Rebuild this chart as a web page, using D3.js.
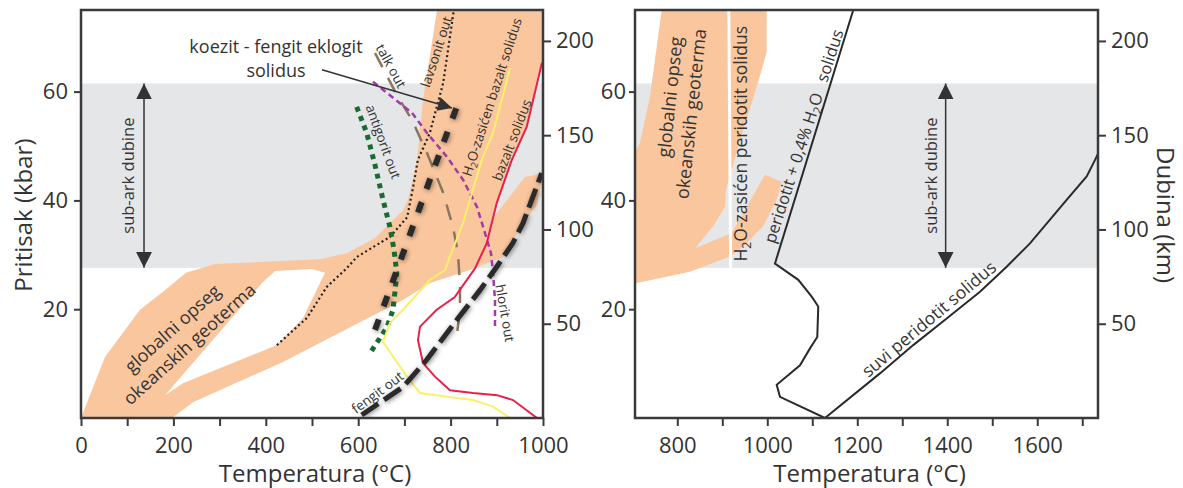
<!DOCTYPE html>
<html>
<head>
<meta charset="utf-8">
<script src="https://cdn.jsdelivr.net/npm/d3@7"></script>
<style>
  body { margin: 0; background: #fff; }
  svg { font-family: "Open Sans", sans-serif; }
</style>
</head>
<body>
<svg id="chart" width="1183" height="488"></svg>
<script>
// -------- data: [temperature °C, pressure kbar] --------
// left panel (basalt / slab)
const geoBandLeft = [[0,0],[51.9,11.2],[127.7,19.9],[181.8,23.5],[227.3,26.7],[290,28.3],[517.3,29.2],[575.8,30.3],[636.4,33.1],[697,38.2],[707.8,40.1],[727.3,47.4],[740.3,58.5],[770.6,75],[1000,75],[1000,65.8],[997.8,65.3],[965.4,53.5],[932.9,47.4],[900.4,39.5],[891.8,36.9],[848.5,32.4],[904.8,38.2],[961,44.3],[1000,45],[1000,44.7],[987,39.2],[956.7,35.8],[913.4,29.6],[835.5,27.0],[755.4,24.8],[697,21.7],[437.2,10.3],[242.4,2.9],[197,0]];
const geoGapLeft = [[181.8,4.2],[220.8,6.4],[424.2,13.4],[480.5,18.4],[528.1,26.7],[500,27.4],[419.9,27.0],[391.8,24.8]];
const lavsonitOut = [[424,13.4],[489,18.4],[532,24.1],[576,27.6],[597,29.6],[669,33.3],[706,36.9],[719,42.5],[729,47.4],[755,52.4],[784,61.6],[807,75]];
const antigoritOut = [[596.7,57.2],[618.4,52.4],[636.4,46.5],[653.7,40.1],[668.8,35.1],[677.5,30.9],[683.5,26.7],[680,23.5],[675.3,19.9],[662.3,16.7],[625.5,11.9]];
const talkOut = [[636.4,67.1],[686.1,59.0],[716.5,54.8],[748.9,48.7],[783.5,41.5],[805.2,35.1],[816,30.3],[820.3,24.4],[820.3,19.9],[811.7,14.0]];
const hloritOut = [[632,61.8],[716.5,56.1],[748.9,52.4],[792.2,48.0],[826.8,43.8],[857.1,38.8],[874.5,34.0],[887.4,30.3],[891.8,26.7],[896.1,21.7],[896.1,16.2]];
const bazaltWetSolidus = [[928.6,64.3],[891.8,52.4],[867.3,47.4],[826.8,35.8],[798.7,29.7],[787.9,27.2],[755.4,25.4],[697,19.9],[668.8,17.5],[653.7,14.0],[675.3,11.3],[705.6,7.6],[733.8,4.6],[792.2,3.9],[848.5,3.3],[891.8,2.1],[928.6,0]];
const bazaltSolidus = [[997.8,65.3],[964.7,53.5],[932.3,47.4],[899.8,39.5],[878.1,32.1],[852.8,27.5],[808.6,22.2],[769.9,19.9],[733.8,16.8],[729.4,14.3],[740.3,10.1],[766.2,7.6],[798.7,5.1],[848.5,4.6],[900.4,4.2],[935.1,3.3],[987,0]];
const koezitSolidus = [[636.4,16.2],[701.3,31.25],[759,44.7],[820.3,58.8]];
const fengitOut = [[607.6,0.55],[697.6,5.75],[748.3,10.7],[813.2,18.0],[863.6,23.5],[899.8,27.8],[935,32.2],[956.7,35.8],[997.2,45.0]];

// right panel (peridotite)
const geoBandRight = [[765.3,75],[998.7,75],[998.7,67.3],[987.6,64.0],[965.3,57.8],[939.3,51.1],[920.9,45.6],[916,44.3],[908.2,41.9],[906,38.8],[879.3,35.2],[839.3,31.2],[909.8,33.6],[920.9,34.0],[954.2,38.8],[994.9,44.7],[1032,43.4],[1020.9,40.1],[990.4,35.2],[946,31.5],[917.1,29.7],[828.2,26.9],[709.8,24.8],[700,24.6],[700,48.0],[717.1,50.6],[739.3,59.1]];
const peridotitWetSolidus = [[914.5,75],[918.5,27.6]];
const peridotitH2OSolidus = [[1191.1,75],[1017.1,28.4],[1068.9,25.4],[1098.7,22.3],[1113.3,20.5],[1111.1,14.9],[1094.9,12.8],[1072.7,9.7],[1020.9,6.1],[1028.2,3.9],[1128.2,0]];
const peridotitDrySolidus = [[1128.2,0],[1250.4,8.2],[1324.4,13.4],[1398.7,18.3],[1472.7,23.2],[1532,27.8],[1583.8,32.1],[1665.3,40.1],[1709.8,44.4],[1728.2,47.4],[1735.6,48.7]];

// sub-arc depth range (kbar)
const subArc = [27.6, 61.5];

// ticks
const pressureTicks = [20, 40, 60];
const depthTicks = [50, 100, 150, 200];
const tempTicksL = [0, 100, 200, 300, 400, 500, 600, 700, 800, 900, 1000];
const tempLabelsL = [0, 200, 400, 600, 800, 1000];
const tempTicksR = [800, 900, 1000, 1100, 1200, 1300, 1400, 1500, 1600, 1700];
const tempLabelsR = [800, 1000, 1200, 1400, 1600];

// -------- setup --------
const svg = d3.select("#chart");
const ink = "#333",
  axisColor = "#3a3a3a",
  orange = "#fac69e",
  grey = "#e5e6e8";

const xL = d3.scaleLinear().domain([0, 1000]).range([81, 543]);
const xR = d3.scaleLinear().domain([706, 1735]).range([635, 1098]);
const yP = d3.scaleLinear().domain([0, 75]).range([418, 10]);
const yKm = d3.scaleLinear().domain([0, 216.4]).range([418, 10]);

const defs = svg.append("defs");

// soft shadow for the thick dashed lines
const shadow = defs.append("filter").attr("id", "shadow")
  .attr("x", "-30%").attr("y", "-30%").attr("width", "160%").attr("height", "160%");
shadow.append("feGaussianBlur").attr("in", "SourceAlpha").attr("stdDeviation", 2.4).attr("result", "blur");
shadow.append("feOffset").attr("in", "blur").attr("dx", 1).attr("dy", 1).attr("result", "off");
shadow.append("feComponentTransfer").attr("in", "off").attr("result", "soft")
  .append("feFuncA").attr("type", "linear").attr("slope", 0.5);
const merge = shadow.append("feMerge");
merge.append("feMergeNode").attr("in", "soft");
merge.append("feMergeNode").attr("in", "SourceGraphic");

// arrowheads
defs.append("marker").attr("id", "tri")
  .attr("viewBox", "0 0 10 10").attr("refX", 10).attr("refY", 5)
  .attr("markerUnits", "userSpaceOnUse").attr("markerWidth", 16).attr("markerHeight", 17)
  .attr("orient", "auto-start-reverse")
  .append("path").attr("d", "M0,0L10,5L0,10Z").attr("fill", ink);
defs.append("marker").attr("id", "triSmall")
  .attr("viewBox", "0 0 10 10").attr("refX", 10).attr("refY", 5)
  .attr("markerUnits", "userSpaceOnUse").attr("markerWidth", 17).attr("markerHeight", 14)
  .attr("orient", "auto")
  .append("path").attr("d", "M0,0L10,5L0,10Z").attr("fill", ink);

// clip each panel to its frame
[["clipL", xL], ["clipR", xR]].forEach(([id, x]) => {
  defs.append("clipPath").attr("id", id).append("rect")
    .attr("x", x.range()[0]).attr("y", yP(75))
    .attr("width", x.range()[1] - x.range()[0]).attr("height", yP(0) - yP(75));
});

// rotated label, parts = [[text, isSubscript], ...]
function label(g, x, y, angle, parts, size) {
  const t = g.append("text")
    .attr("transform", `translate(${x},${y}) rotate(${angle})`)
    .attr("text-anchor", "middle")
    .attr("dy", "0.35em")
    .attr("font-size", size)
    .attr("fill", ink);
  parts.forEach(([s, sub]) => {
    const span = t.append("tspan").text(s);
    if (sub) span.attr("font-size", size * 0.7).attr("dy", size * 0.22);
    else if (t.selectAll("tspan").size() > 1) span.attr("dy", -size * 0.22);
  });
  return t;
}

function lineOf(x) {
  return d3.line().x(d => x(d[0])).y(d => yP(d[1]));
}

// ---------------- left panel ----------------
const lineL = lineOf(xL);
const left = svg.append("g").attr("clip-path", "url(#clipL)");

left.append("rect")
  .attr("x", xL(0)).attr("width", xL(1000) - xL(0) + 2)
  .attr("y", yP(subArc[1])).attr("height", yP(subArc[0]) - yP(subArc[1]))
  .attr("fill", grey);

left.append("path").datum(geoBandLeft).attr("d", d => lineL(d) + "Z").attr("fill", orange);
left.append("path").datum(geoGapLeft).attr("d", d => lineL(d) + "Z").attr("fill", "#fff");

left.append("path").datum(lavsonitOut).attr("d", lineL)
  .attr("fill", "none").attr("stroke", "#222").attr("stroke-width", 2.2).attr("stroke-dasharray", "2,2.8");
left.append("path").datum(antigoritOut).attr("d", lineL)
  .attr("fill", "none").attr("stroke", "#1b6a33").attr("stroke-width", 5).attr("stroke-dasharray", "5,5");
left.append("path").datum(talkOut).attr("d", lineL)
  .attr("fill", "none").attr("stroke", "#8a7660").attr("stroke-width", 2.5).attr("stroke-dasharray", "16,12");
left.append("path").datum(hloritOut).attr("d", lineL)
  .attr("fill", "none").attr("stroke", "#a23aa8").attr("stroke-width", 2.5).attr("stroke-dasharray", "6,4");
left.append("path").datum(bazaltWetSolidus).attr("d", lineL)
  .attr("fill", "none").attr("stroke", "#fbef6c").attr("stroke-width", 2);
left.append("path").datum(bazaltSolidus).attr("d", lineL)
  .attr("fill", "none").attr("stroke", "#e8204c").attr("stroke-width", 2);
left.append("path").datum(koezitSolidus).attr("d", lineL)
  .attr("fill", "none").attr("stroke", "#2a2a2a").attr("stroke-width", 6).attr("stroke-dasharray", "11,14")
  .attr("filter", "url(#shadow)");
left.append("path").datum(fengitOut).attr("d", lineL)
  .attr("fill", "none").attr("stroke", "#2a2a2a").attr("stroke-width", 5).attr("stroke-dasharray", "20,7")
  .attr("filter", "url(#shadow)");

// sub-arc arrow
left.append("line")
  .attr("x1", xL(136.4)).attr("x2", xL(136.4))
  .attr("y1", yP(subArc[0])).attr("y2", yP(subArc[1]))
  .attr("stroke", ink).attr("stroke-width", 1.5)
  .attr("marker-start", "url(#tri)").attr("marker-end", "url(#tri)");
label(left, xL(101.7), yP(44.55), -90, [["sub-ark dubine"]], 16.5);

// curve labels
label(left, xL(198), yP(16.45), -42, [["globalni opseg"]], 18);
label(left, xL(234.8), yP(13.6), -42, [["okeanskih geoterma"]], 18);
label(left, xL(654), yP(50.8), 70, [["antigorit out"]], 13.5);
label(left, xL(671), yP(64.7), 61, [["talk out"]], 13.5);
label(left, xL(769), yP(67.3), -72, [["lavsonit out"]], 13.5);
label(left, xL(889.6), yP(59), -72, [["H"], ["2", true], ["O-zasićen bazalt solidus"]], 13.5);
label(left, xL(932.9), yP(51.1), -69, [["bazalt solidus"]], 13.5);
label(left, xL(917.7), yP(19.3), 80, [["hlorit out"]], 13.5);
label(left, xL(641.8), yP(4.7), -36.5, [["fengit out"]], 13.5);

// koezit label + arrow
left.append("text").attr("x", xL(422)).attr("y", yP(67.1))
  .attr("text-anchor", "middle").attr("font-size", 18).attr("fill", ink)
  .text("koezit - fengit eklogit");
left.append("text").attr("x", xL(422)).attr("y", yP(62.7))
  .attr("text-anchor", "middle").attr("font-size", 18).attr("fill", ink)
  .text("solidus");
left.append("line")
  .attr("x1", xL(521.6)).attr("y1", yP(64.0))
  .attr("x2", xL(803)).attr("y2", yP(57.0))
  .attr("stroke", ink).attr("stroke-width", 1.5)
  .attr("marker-end", "url(#triSmall)");

// ---------------- right panel ----------------
const lineR = lineOf(xR);
const right = svg.append("g").attr("clip-path", "url(#clipR)");

right.append("rect")
  .attr("x", xR(706)).attr("width", xR(1735) - xR(706))
  .attr("y", yP(subArc[1])).attr("height", yP(subArc[0]) - yP(subArc[1]))
  .attr("fill", grey);
right.append("path").datum(geoBandRight).attr("d", d => lineR(d) + "Z").attr("fill", orange);
right.append("path").datum(peridotitWetSolidus).attr("d", lineR)
  .attr("fill", "none").attr("stroke", "#fff").attr("stroke-width", 3);
right.append("path").datum(peridotitH2OSolidus).attr("d", lineR)
  .attr("fill", "none").attr("stroke", "#2a2a2a").attr("stroke-width", 2);
right.append("path").datum(peridotitDrySolidus).attr("d", lineR)
  .attr("fill", "none").attr("stroke", "#2a2a2a").attr("stroke-width", 2);

right.append("line")
  .attr("x1", xR(1396.4)).attr("x2", xR(1396.4))
  .attr("y1", yP(subArc[0])).attr("y2", yP(subArc[1]))
  .attr("stroke", ink).attr("stroke-width", 1.5)
  .attr("marker-start", "url(#tri)").attr("marker-end", "url(#tri)");
label(right, xR(1365.3), yP(44.55), -90, [["sub-ark dubine"]], 16.5);

label(right, xR(783.8), yP(59), -84, [["globalni opseg"]], 18);
label(right, xR(830.4), yP(55.9), -84, [["okeanskih geoterma"]], 18);
label(right, xR(941.6), yP(50.4), -90, [["H"], ["2", true], ["O-zasićen peridotit solidus"]], 17.5);
label(right, xR(1081), yP(51.8), -72, [["peridotit + 0,4% H"], ["2", true], ["O\u2002 solidus"]], 16.5);
label(right, xR(1359.3), yP(18.2), -40, [["suvi peridotit solidus"]], 17.5);

// ---------------- frames and axes ----------------
function styleAxis(g, size) {
  g.select(".domain").remove();
  g.selectAll(".tick line").attr("stroke", axisColor).attr("stroke-width", 2);
  g.selectAll(".tick text").attr("fill", ink).attr("font-size", size)
    .attr("font-family", '"Open Sans", sans-serif');
}

function frame(x, tempTicks, tempLabels, leftSize, leftPad) {
  const [x0, x1] = x.range();
  svg.append("rect")
    .attr("x", x0).attr("y", yP(75))
    .attr("width", x1 - x0).attr("height", yP(0) - yP(75))
    .attr("fill", "none").attr("stroke", axisColor).attr("stroke-width", 2.5);

  svg.append("g").attr("transform", `translate(0,${yP(0)})`)
    .call(d3.axisBottom(x).tickValues(tempTicks).tickSize(8).tickPadding(11)
      .tickFormat(d => tempLabels.includes(d) ? d : ""))
    .call(g => styleAxis(g, 22));

  svg.append("g").attr("transform", `translate(${x0},0)`)
    .call(d3.axisLeft(yP).tickValues(pressureTicks).tickSize(leftSize).tickPadding(leftPad))
    .call(g => styleAxis(g, 22));

  svg.append("g").attr("transform", `translate(${x1},0)`)
    .call(d3.axisRight(yKm).tickValues(depthTicks).tickSize(8).tickPadding(5))
    .call(g => styleAxis(g, 22));

  svg.append("text")
    .attr("x", (x0 + x1) / 2 + 3).attr("y", 482)
    .attr("text-anchor", "middle").attr("font-size", 24).attr("fill", ink)
    .text("Temperatura (°C)");
}

frame(xL, tempTicksL, tempLabelsL, 7, 6);
frame(xR, tempTicksR, tempLabelsR, 6, 3);

svg.append("text")
  .attr("transform", `translate(32,${yP(37.3)}) rotate(-90)`)
  .attr("text-anchor", "middle").attr("font-size", 24).attr("fill", ink)
  .text("Pritisak (kbar)");

svg.append("text")
  .attr("transform", `translate(1157,${yP(37.3)}) rotate(90)`)
  .attr("text-anchor", "middle").attr("font-size", 24).attr("fill", ink)
  .text("Dubina (km)");
</script>
</body>
</html>
